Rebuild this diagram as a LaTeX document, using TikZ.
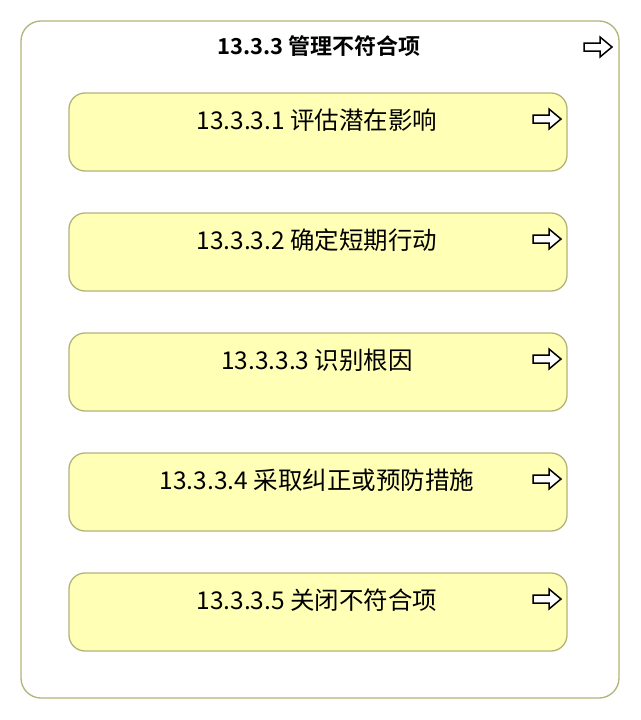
\documentclass[tikz,border=0pt]{standalone}
\usepackage{fontspec}
\setmainfont{Noto Sans CJK SC}[BoldFont={Noto Sans CJK SC Bold}]
\begin{document}
\begin{tikzpicture}[x=1pt,y=-1pt,
  outerbox/.style={draw=olivebd, fill=white, line width=1.3pt, rounded corners=20pt},
  taskbox/.style={draw=olivebd, fill=taskfill, line width=1.3pt, rounded corners=16pt},
  tasklabel/.style={font=\fontsize{24.5}{28}\selectfont, text=black, anchor=center},
  titlelabel/.style={font=\bfseries\fontsize{22}{26}\selectfont, text=black, anchor=center},
  icon/.style={draw=black, fill=white, line width=1.5pt, line join=miter}]
\definecolor{olivebd}{HTML}{B3B37A}
\definecolor{taskfill}{HTML}{FFFFB5}
\useasboundingbox (0,0) rectangle (640,720);
\newcommand{\arrowicon}[2]{%
  \draw[icon] (#1-14,#2-4) -- (#1+2,#2-4) -- (#1+2,#2-10) -- (#1+14,#2) -- (#1+2,#2+10) -- (#1+2,#2+4) -- (#1-14,#2+4) -- cycle;}
\draw[outerbox] (21,21) rectangle (619,698);
\node[titlelabel] (title) at (319,46) {13.3.3 管理不符合项};
\arrowicon{598}{47}
\foreach \i/\t in {0/{13.3.3.1 评估潜在影响},1/{13.3.3.2 确定短期行动},2/{13.3.3.3 识别根因},3/{13.3.3.4 采取纠正或预防措施},4/{13.3.3.5 关闭不符合项}} {
  \pgfmathsetmacro{\yt}{93+120*\i}
  \draw[taskbox] (69,\yt) rectangle (567,\yt+78);
  \node[tasklabel] (t\i) at (317,\yt+27) {\t};
  \arrowicon{547}{\yt+26}
}
\end{tikzpicture}
\end{document}
